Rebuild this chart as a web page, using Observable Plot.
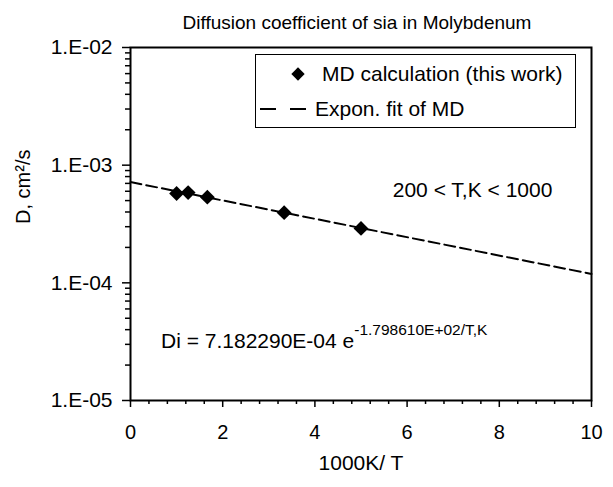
<!DOCTYPE html>
<html><head><meta charset="utf-8">
<script src="https://cdn.jsdelivr.net/npm/d3@7"></script>
<script src="https://cdn.jsdelivr.net/npm/@observablehq/plot@0.6"></script>
<style>
body{margin:0;background:#fff;font-family:"Liberation Sans",Arial,sans-serif;}
#wrap{position:relative;width:613px;height:487px;overflow:hidden;background:#fff;}
#title{position:absolute;left:0;top:13px;width:613px;padding-left:101px;box-sizing:border-box;text-align:center;font-size:19px;line-height:19px;color:#000;}
</style></head><body>
<div id="wrap"><div id="title">Diffusion coefficient of sia in Molybdenum</div></div>
<script>
// MD data (1000K/T, D in cm^2/s)
const invT = [1.0, 1.25, 1.667, 3.333, 5.0];
const diffD = [5.75e-4, 5.85e-4, 5.35e-4, 3.95e-4, 2.9e-4];
// Exponential fit endpoints
const fitInvT = [0, 10];
const fitD = [7.18229e-4, 1.19e-4];
// Axis ticks
const xTicks = [0, 2, 4, 6, 8, 10];
const xMinorTicks = [0.4, 0.8, 1.2, 1.6, 2.4, 2.8, 3.2, 3.6, 4.4, 4.8, 5.2, 5.6, 6.4, 6.8, 7.2, 7.6, 8.4, 8.8, 9.2, 9.6];
const yTicks = [1e-2, 1e-3, 1e-4, 1e-5];
const yTickLabels = ["1.E-02", "1.E-03", "1.E-04", "1.E-05"];
const yMinorMantissa = [2, 3, 4, 5, 6, 7, 8, 9];
const yDecades = [1e-5, 1e-4, 1e-3];
// Texts
const xLabel = "1000K/ T";
const yLabel = "D, cm²/s";
const rangeNote = ["200 < T,K < 1000"];
const rangeNoteX = [7.42];
const rangeNoteY = [6.1e-4];
const eqMain = "Di = 7.182290E-04 e";
const eqExp = "-1.798610E+02/T,K";
const legendLabels = ["MD calculation (this work)", "Expon. fit of MD"];

const points = invT.map((x, i) => ({x, y: diffD[i]}));
const fit = fitInvT.map((x, i) => ({x, y: fitD[i]}));
const yMinorTicks = yDecades.flatMap(d => yMinorMantissa.map(m => m * d));
const notes = rangeNote.map((t, i) => ({t, x: rangeNoteX[i], y: rangeNoteY[i]}));

const plot = Plot.plot({
  width: 613, height: 487,
  marginLeft: 130, marginRight: 22, marginTop: 47, marginBottom: 87,
  style: {fontFamily: "Liberation Sans, Arial, sans-serif", color: "black", background: "white", overflow: "visible"},
  x: {domain: [0, 10]},
  y: {type: "log", domain: [1e-5, 1e-2]},
  marks: [
    Plot.axisX({ticks: xMinorTicks, tickSize: 4, tickFormat: () => "", label: null, strokeWidth: 1.5}),
    Plot.axisX({ticks: xTicks, tickSize: 7, tickPadding: 17, fontSize: 20, label: null, strokeWidth: 1.5}),
    Plot.axisY({ticks: yMinorTicks, tickSize: 5, tickFormat: () => "", label: null, strokeWidth: 1.5}),
    Plot.axisY({ticks: yTicks, tickSize: 8, tickPadding: 10, tickFormat: d => yTickLabels[yTicks.indexOf(d)], fontSize: 21, label: null, strokeWidth: 1.5}),
    Plot.frame({stroke: "black", strokeWidth: 2}),
    Plot.line(fit, {x: "x", y: "y", stroke: "black", strokeWidth: 2, strokeDasharray: "11,5"}),
    Plot.dot(points, {x: "x", y: "y", symbol: "diamond2", r: 6.7, fill: "black", stroke: "none"}),
    Plot.text(notes, {x: "x", y: "y", text: "t", fontSize: 21}),
    Plot.text([xLabel], {frameAnchor: "bottom", dy: 69, text: d => d, fontSize: 21}),
    Plot.text([yLabel], {frameAnchor: "left", dx: -107, rotate: -90, text: d => d, fontSize: 20})
  ]
});
document.getElementById("wrap").prepend(plot);

const svg = d3.select(plot);
// Equation with superscript
const eq = svg.append("text").attr("x", 161).attr("y", 348).attr("text-anchor", "start")
  .attr("font-size", 21).attr("fill", "black");
eq.append("tspan").text(eqMain);
eq.append("tspan").attr("dy", -13).attr("font-size", 15.5).text(eqExp);

// Legend
const lg = svg.append("g").attr("text-anchor", "start");
lg.append("rect").attr("x", 255.5).attr("y", 54.5).attr("width", 320).attr("height", 73)
  .attr("fill", "white").attr("stroke", "black").attr("stroke-width", 1);
lg.append("path").attr("d", d3.symbol(d3.symbolDiamond2, 6 * 6 * Math.PI)()).attr("transform", "translate(298,74)").attr("fill", "black");
lg.append("text").attr("x", 322).attr("y", 74).attr("dy", "0.35em").attr("font-size", 21).attr("text-anchor", "start").text(legendLabels[0]);
lg.append("line").attr("x1", 260).attr("x2", 306).attr("y1", 109).attr("y2", 109)
  .attr("stroke", "black").attr("stroke-width", 2).attr("stroke-dasharray", "16,14");
lg.append("text").attr("x", 315).attr("y", 109).attr("dy", "0.35em").attr("font-size", 21).attr("text-anchor", "start").text(legendLabels[1]);
</script>
</body></html>
